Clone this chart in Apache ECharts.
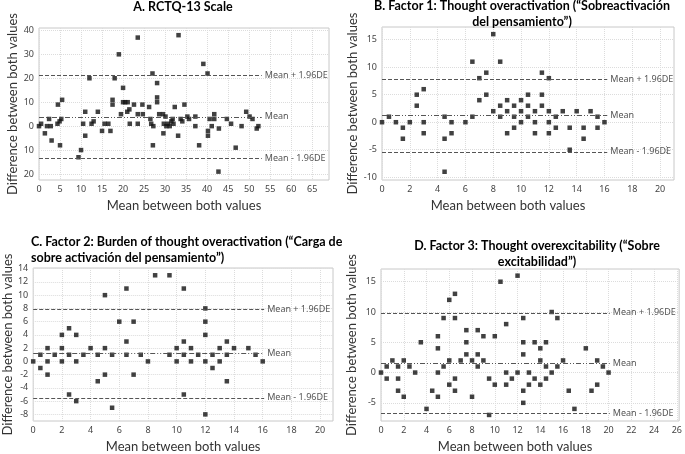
<!DOCTYPE html>
<html><head><meta charset="utf-8">
<script src="https://cdn.jsdelivr.net/npm/echarts@6/dist/echarts.min.js"></script>
<style>html,body{margin:0;padding:0;background:#fff}#c{width:685px;height:454px}</style>
</head><body><div id="c"></div>
<script>
// ---------- Panel A: RCTQ-13 Scale ----------
const aMean = [0,0.5,1.4,1.9,2.4,2.8,3,4.4,4.5,4.9,5,5.3,5.5,9.4,10,10.5,11,11,12,12.5,13,14,15,15.6,16.5,17,17.5,17.5,18,19,19.5,20,20,20.5,21,21.1,21.5,21.6,22.6,23.5,23.5,23.5,24.6,24.7,26.2,26.5,26.7,27,27.1,27.2,28.1,28.1,28.1,28.6,29.5,29.6,29.7,30.1,30.3,30.7,31.1,31.5,31.8,32,32.3,33.1,33.2,33.7,34.1,34.6,35.3,35.7,37.2,37.2,38.1,39.1,40.1,40.2,40.2,40.6,41.1,41.7,41.7,42.8,42.7,44.7,45.7,46.8,48.2,49.3,50.1,50.8,51.8,52.2];
const aDiff = [0,1,-3,0,3,0,-6,1,9,2,-8,3,11,-13,-10,1,6,-4,20,1,2,6,-2,1,1,-2,11,9,20,30,5,16,10,10,6,10,7,1,9,37,5,1,9,5,8,3,1,22,-8,0,18,12,10,5,5,-3,1,4,0,1,0,2,3,1,8,-4,38,3,2,9,4,3,4,0,-8,26,22,-2,-4,3,0,5,3,-1,-19,3,1,-9,0,6,4,3,-1,0];
const aLimits = [21.3, 3.9, -13.5];
const aXTicks = [0,5,10,15,20,25,30,35,40,45,50,55,60,65];
const aYTicks = [-20,-10,0,10,20,30,40];
const aYTickLabels = ['20','10','0','10','20','30','40'];

// ---------- Panel B: Factor 1 ----------
const bMean = [0,0.5,1,1.5,1.5,2,2.5,2.5,3,3,3,4.5,4.5,4.5,5,5,6,6.5,6.5,7,7,7.5,7.5,8,8,8.5,8.5,8.5,9,9,9,9.5,9.5,9.5,10,10,10,10.5,10.5,10.5,11,11,11,11.5,11.5,11.5,12,12,12,12,12.5,12.5,13,13.5,13.5,14,14.5,14.5,15,15.5,15.5,16];
const bDiff = [0,1,0,-1,-3,0,5,3,6,0,-2,1,-3,-9,0,-2,0,11,1,8,4,9,5,16,2,11,3,1,4,2,-2,3,1,-1,4,2,0,5,3,1,2,0,-2,9,5,3,8,2,0,-2,1,-1,2,-1,-5,2,-1,-3,2,1,-1,0];
const bLimits = [7.8, 1.25, -5.4];
const bXTicks = [0,2,4,6,8,10,12,14,16,18,20];
const bYTicks = [-10,-5,0,5,10,15];

// ---------- Panel C: Factor 2 ----------
const cMean = [0,0.5,0.5,1,1,1,1.5,2,2,2,2.5,2.5,2.5,3,3,3,3.5,4,4.5,4.5,5,5,5,5.5,5.5,6,6.5,6.5,6.5,7,7,7.5,8,8.5,9.5,9.5,10,10,10.5,10.5,10.5,10.5,11,11,11.5,12,12,12,12,12,12.5,12.5,13,13,13.5,13.5,13.5,14,15,15.5,16];
const cDiff = [0,1,-1,2,0,-2,1,4,2,0,5,1,-5,4,0,-6,1,2,1,-3,10,2,-2,1,-7,6,11,3,1,6,-2,1,0,13,13,1,2,0,11,3,1,-5,2,0,1,8,6,4,0,-8,1,-1,2,0,3,1,-3,2,2,1,0];
const cLimits = [7.85, 1.2, -5.5];
const cXTicks = [0,2,4,6,8,10,12,14,16,18,20];
const cYTicks = [-8,-6,-4,-2,0,2,4,6,8,10,12,14];

// ---------- Panel D: Factor 3 ----------
const dMean = [0,0.5,0.5,1,1.5,1.5,1.5,2,2,2.5,3,3.5,4,4.5,5,5,5,5,5.5,5.5,6,6,6,6.5,6.5,6.5,6.5,7,7.5,7.5,7.5,8,8,8.5,8.5,8.5,9,9,9.5,9.5,10,10,10.5,11,11,11,11.5,12,12,12.5,12.5,12.5,12.5,12.5,13,13,13.5,13.5,14,14,14,14.5,14.5,14.5,15,15,15.5,15.5,16,16.5,17,18,18.5,19,19,19.5,20];
const dDiff = [0,1,-1,2,1,-1,-3,2,-4,1,0,5,-6,-3,6,4,0,-4,9,1,12,2,-2,13,9,-1,-3,2,7,5,3,2,-4,7,3,1,6,2,-1,-7,6,-2,15,8,0,-2,-1,16,0,9,5,3,-3,-5,0,-2,5,-1,4,2,-2,5,1,-1,10,0,9,1,2,-3,-6,4,-3,2,-2,1,0];
const dLimits = [9.85, 1.55, -6.75];
const dXTicks = [0,2,4,6,8,10,12,14,16,18,20,22,24,26];
const dYTicks = [-5,0,5,10,15];

const limitNames = ['Mean + 1.96DE', 'Mean', 'Mean - 1.96DE'];
const titles = [
  'A. RCTQ-13 Scale',
  'B. Factor 1: Thought overactivation (\u201cSobreactivaci\u00f3n\ndel pensamiento\u201d)',
  'C. Factor 2: Burden of thought overactivation (\u201cCarga de\nsobre activaci\u00f3n del pensamiento\u201d)',
  'D. Factor 3: Thought overexcitability (\u201cSobre\nexcitabilidad\u201d)'
];
const yName = 'Difference between both values';
const xName = 'Mean between both values';

const panels = [
  {grid:{left:39,top:28,width:290,height:152}, x:[0,69], y:[-22.5,41], xt:aXTicks, yt:aYTicks, ylab:aYTickLabels,
   mx:aMean, dy:aDiff, lim:aLimits, end:53, yGap:20, xGap:19, xPad:[0,0,0,0]},
  {grid:{left:382,top:27,width:292,height:153}, x:[0,21], y:[-10.5,17.3], xt:bXTicks, yt:bYTicks,
   mx:bMean, dy:bDiff, lim:bLimits, end:16.2, yGap:23, xGap:19, xPad:[0,40,0,0]},
  {grid:{left:33,top:268,width:300,height:154}, x:[0,20.9], y:[-9,14.1], xt:cXTicks, yt:cYTicks,
   mx:cMean, dy:cDiff, lim:cLimits, end:16.1, yGap:14, xGap:19, xPad:[0,0,0,0]},
  {grid:{left:381,top:269,width:302,height:155}, x:[0,26.2], y:[-8,17.1], xt:dXTicks, yt:dYTicks,
   mx:dMean, dy:dDiff, lim:dLimits, end:20.1, yGap:23, xGap:19, xPad:[0,30,0,0]}
];

const FONT = 'Lato';
const labelStyle = {fontSize:9, color:'#444', fontFamily:'Noto Sans'};
const dashLine = [4,2];
const dashDot = [5,2,1,2,1,2];
const tStyle = {fontSize:12.5, fontWeight:'bold', color:'#000', fontFamily:FONT, lineHeight:16};

const option = {
  animation:false,
  backgroundColor:'#fff',
  title:[
    {text:titles[0], left:183, top:-1, padding:0, textAlign:'center', textStyle:tStyle},
    {text:titles[1], left:522, top:-2, padding:0, textAlign:'center', textStyle:Object.assign({align:'center'}, tStyle)},
    {text:titles[2], left:31, top:233.5, padding:0, textStyle:Object.assign({}, tStyle, {lineHeight:16.6})},
    {text:titles[3], left:537, top:238, padding:0, textAlign:'center', textStyle:Object.assign({align:'center'}, tStyle)}
  ],
  grid: panels.map(p => Object.assign({show:true, borderColor:'#c8c8c8', borderWidth:1, backgroundColor:'transparent'}, p.grid)),
  xAxis: panels.map((p,i) => ({
    type:'value', gridIndex:i, min:p.x[0], max:p.x[1],
    name:xName, nameLocation:'middle', nameGap:p.xGap,
    nameTextStyle:{fontSize:13, color:'#333', fontFamily:FONT, padding:p.xPad},
    axisLine:{show:false}, axisTick:{show:false, customValues:p.xt},
    axisLabel:{customValues:p.xt, margin:5, ...labelStyle},
    splitLine:{show:true, lineStyle:{color:'#dcdcdc', type:'dotted'}}
  })),
  yAxis: panels.map((p,i) => ({
    type:'value', gridIndex:i, min:p.y[0], max:p.y[1],
    name:yName, nameLocation:'middle', nameGap:p.yGap,
    nameTextStyle:{fontSize:13, color:'#333', fontFamily:FONT},
    axisLine:{show:false}, axisTick:{show:false, customValues:p.yt},
    axisLabel:{customValues:p.yt, margin:5, ...labelStyle,
      formatter: p.ylab ? (v => p.ylab[p.yt.indexOf(v)]) : (v => String(v))},
    splitLine:{show:true, lineStyle:{color:'#dcdcdc', type:'dotted'}}
  })),
  series: panels.map((p,i) => ({
    type:'scatter', xAxisIndex:i, yAxisIndex:i,
    symbol:'rect', symbolSize:4.5,
    itemStyle:{color:'#111'},
    data: p.mx.map((x,k) => [x, p.dy[k]]),
    markLine:{
      silent:true, symbol:'none', animation:false,
      data: p.lim.map((v,k) => [
        {coord:[0,v], lineStyle:{color:'#555', width:1, type: k===1 ? dashDot : dashLine}},
        {coord:[p.end,v], label:{show:true, position:'end', formatter:limitNames[k], distance:3, fontSize:9, color:'#555', fontFamily:'Noto Sans'}}
      ])
    }
  })),
  graphic:[{type:'text', left:662, top:146, style:{text:'\u22ee', fontSize:9, fill:'#999'}}]
};
const chart = echarts.init(document.getElementById('c'), null, {renderer:'canvas'});
chart.setOption(option);
</script>
</body></html>
